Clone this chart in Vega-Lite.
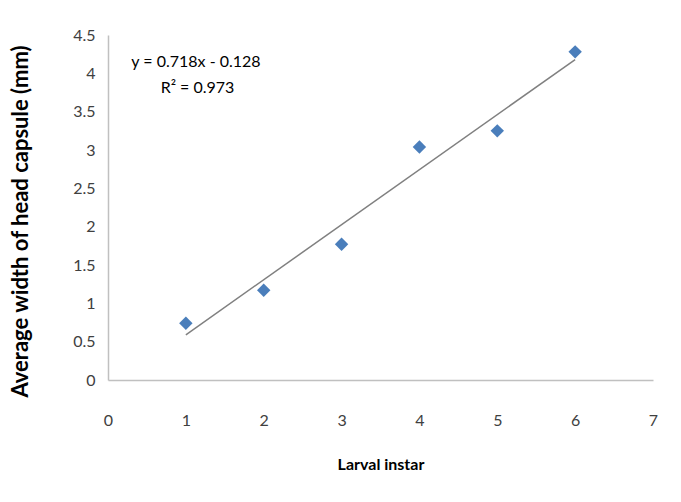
{
  "$schema": "https://vega.github.io/schema/vega-lite/v6.json",
  "autosize": "none",
  "width": 545,
  "height": 345,
  "padding": {"left": 108, "top": 35, "right": 28, "bottom": 122},
  "background": "white",
  "config": {
    "view": {"stroke": null},
    "font": "Lato",
    "axis": {"labelOverlap": false, "labelBound": false, "labelFlush": false}
  },
  "datasets": {
    "points": [
      {"instar": 1, "width": 0.74},
      {"instar": 2, "width": 1.17},
      {"instar": 3, "width": 1.77},
      {"instar": 4, "width": 3.04},
      {"instar": 5, "width": 3.25},
      {"instar": 6, "width": 4.28}
    ],
    "trend": [
      {"instar": 1, "width": 0.59},
      {"instar": 6, "width": 4.18}
    ],
    "labels": [
      {"instar": 1.13, "width": 4.15, "text": "y = 0.718x - 0.128"},
      {"instar": 1.15, "width": 3.81, "text": "R² = 0.973"}
    ]
  },
  "encoding": {
    "x": {
      "field": "instar", "type": "quantitative",
      "scale": {"domain": [0, 7], "nice": false},
      "axis": {
        "title": "Larval instar",
        "values": [0, 1, 2, 3, 4, 5, 6, 7],
        "format": "~g",
        "grid": false, "ticks": false,
        "domainColor": "#c0c0c0", "domainWidth": 1.5,
        "labelFontSize": 16, "labelColor": "#404040", "labelPadding": 32,
        "titleFontSize": 16, "titleFontWeight": "bold", "titleColor": "#000000",
        "titlePadding": 28
      }
    },
    "y": {
      "field": "width", "type": "quantitative",
      "scale": {"domain": [0, 4.5], "nice": false},
      "axis": {
        "title": "Average width of head capsule (mm)",
        "values": [0, 0.5, 1, 1.5, 2, 2.5, 3, 3.5, 4, 4.5],
        "format": ".1~f",
        "grid": false, "ticks": false,
        "domainColor": "#c0c0c0", "domainWidth": 1.5,
        "labelFontSize": 16, "labelColor": "#404040", "labelPadding": 13,
        "titleFontSize": 22, "titleFontWeight": "bold", "titleColor": "#000000",
        "titlePadding": 40,
        "titleY": 186
      }
    }
  },
  "layer": [
    {
      "data": {"name": "trend"},
      "mark": {"type": "line", "color": "#808080", "strokeWidth": 1.5}
    },
    {
      "data": {"name": "points"},
      "mark": {"type": "point", "shape": "diamond", "filled": true, "color": "#4a7ebb", "opacity": 1, "size": 180}
    },
    {
      "data": {"name": "labels"},
      "mark": {"type": "text", "fontSize": 16, "color": "#000000", "align": "center", "baseline": "middle"},
      "encoding": {
        "text": {"field": "text"}
      }
    }
  ]
}
